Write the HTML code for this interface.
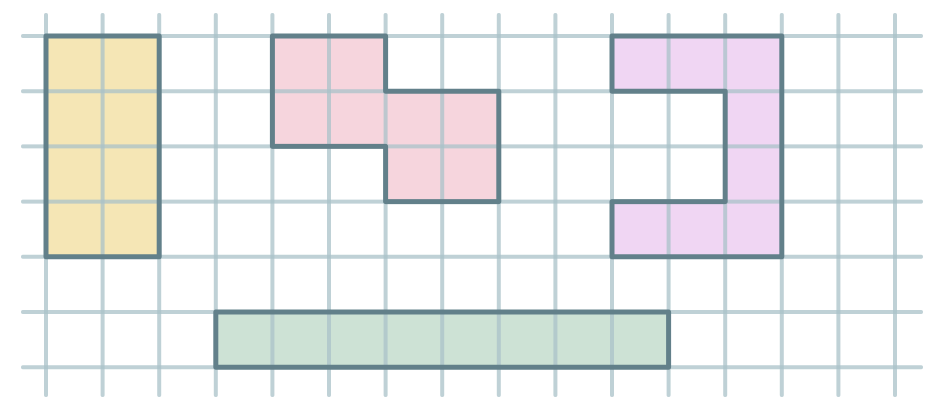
<!DOCTYPE html>
<html><head><style>html,body{margin:0;padding:0;background:#fff}svg{display:block}</style></head>
<body>
<svg width="943" height="411" viewBox="0 0 943 411" xmlns="http://www.w3.org/2000/svg">
<g transform="translate(46,36) scale(56.6,55.2)">
<rect x="0" y="0" width="2" height="4" fill="#f5e6b5"/>
<polygon points="4,0 6,0 6,1 8,1 8,3 6,3 6,2 4,2" fill="#f6d5dd"/>
<polygon points="10,0 13,0 13,4 10,4 10,3 12,3 12,1 10,1" fill="#f0d6f3"/>
<rect x="3" y="5" width="8" height="1" fill="#cde2d5"/>
</g>
<g stroke="#a9c2c8" stroke-width="4" stroke-opacity="0.75" stroke-linecap="round">
<line x1="23" y1="36" x2="921" y2="36"/>
<line x1="23" y1="91.2" x2="921" y2="91.2"/>
<line x1="23" y1="146.4" x2="921" y2="146.4"/>
<line x1="23" y1="201.6" x2="921" y2="201.6"/>
<line x1="23" y1="256.8" x2="921" y2="256.8"/>
<line x1="23" y1="312" x2="921" y2="312"/>
<line x1="23" y1="367.2" x2="921" y2="367.2"/>
<line x1="46" y1="15" x2="46" y2="395"/>
<line x1="102.6" y1="15" x2="102.6" y2="395"/>
<line x1="159.2" y1="15" x2="159.2" y2="395"/>
<line x1="215.8" y1="15" x2="215.8" y2="395"/>
<line x1="272.4" y1="15" x2="272.4" y2="395"/>
<line x1="329" y1="15" x2="329" y2="395"/>
<line x1="385.6" y1="15" x2="385.6" y2="395"/>
<line x1="442.2" y1="15" x2="442.2" y2="395"/>
<line x1="498.8" y1="15" x2="498.8" y2="395"/>
<line x1="555.4" y1="15" x2="555.4" y2="395"/>
<line x1="612" y1="15" x2="612" y2="395"/>
<line x1="668.6" y1="15" x2="668.6" y2="395"/>
<line x1="725.2" y1="15" x2="725.2" y2="395"/>
<line x1="781.8" y1="15" x2="781.8" y2="395"/>
<line x1="838.4" y1="15" x2="838.4" y2="395"/>
<line x1="895" y1="15" x2="895" y2="395"/>
</g>
<g fill="none" stroke="#62808a" stroke-width="5" stroke-linejoin="round">
<polygon points="46,36 159.2,36 159.2,256.8 46,256.8"/>
<polygon points="272.4,36 385.6,36 385.6,91.2 498.8,91.2 498.8,201.6 385.6,201.6 385.6,146.4 272.4,146.4"/>
<polygon points="612,36 781.8,36 781.8,256.8 612,256.8 612,201.6 725.2,201.6 725.2,91.2 612,91.2"/>
<polygon points="215.8,312 668.6,312 668.6,367.2 215.8,367.2"/>
</g>
</svg>
</body></html>
